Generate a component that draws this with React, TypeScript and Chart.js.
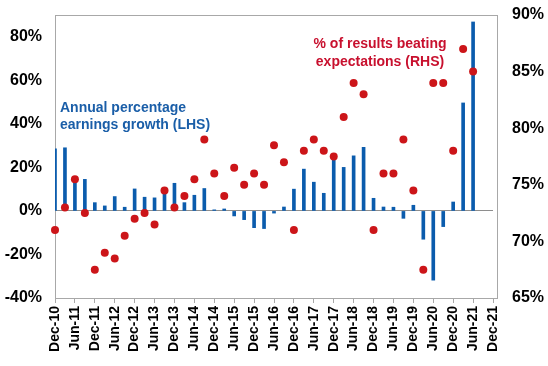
import React, { useEffect, useRef } from "react";
import { Chart, registerables } from "chart.js";

Chart.register(...registerables);

const quarters = [
  "Dec-10", "Mar-11", "Jun-11", "Sep-11", "Dec-11", "Mar-12", "Jun-12", "Sep-12", "Dec-12",
  "Mar-13", "Jun-13", "Sep-13", "Dec-13", "Mar-14", "Jun-14", "Sep-14", "Dec-14",
  "Mar-15", "Jun-15", "Sep-15", "Dec-15", "Mar-16", "Jun-16", "Sep-16", "Dec-16",
  "Mar-17", "Jun-17", "Sep-17", "Dec-17", "Mar-18", "Jun-18", "Sep-18", "Dec-18",
  "Mar-19", "Jun-19", "Sep-19", "Dec-19", "Mar-20", "Jun-20", "Sep-20", "Dec-20",
  "Mar-21", "Jun-21", "Sep-21", "Dec-21",
];

// Annual percentage earnings growth (LHS), %
const earningsGrowth = [
  28.5, 29, 14, 14.5, 3.8, 2.3, 6.6, 1.7, 10.1, 6.3, 6, 9, 12.7, 3.8, 7.2, 10.3, 0.5,
  0.9, -2.3, -4, -7.7, -8.1, -1, 1.8, 10, 19.2, 13.2, 8.1, 24.3, 20, 25.3, 29.2, 5.8,
  1.8, 1.7, -3.4, 2.6, -13, -31.8, -7.2, 4.1, 49.6, 86.8,
];

// % of results beating expectations (RHS)
const beatingExpectations = [
  71, 73, 75.5, 72.5, 67.5, 69, 68.5, 70.5, 72, 72.5, 71.5, 74.5, 73, 74, 75.5, 79, 76,
  74, 76.5, 75, 76, 75, 78.5, 77, 71, 78, 79, 78, 77.5, 81, 84, 83, 71,
  76, 76, 79, 74.5, 67.5, 84, 84, 78, 87, 85,
];

const leftTicks = { min: -40, max: 90, step: 20 };
const rightTicks = { min: 65, max: 90, step: 5 };

const blueLabel = ["Annual percentage", "earnings growth (LHS)"];
const redLabel = ["% of results beating", "expectations (RHS)"];

const FONT = "'Liberation Sans', Arial, sans-serif";
const BLUE = "#0B5CAD";
const RED = "#CC1519";

export default function App() {
  const ref = useRef<HTMLCanvasElement | null>(null);

  useEffect(() => {
    if (!ref.current) return;

    const framePlugin = {
      id: "frame",
      beforeDatasetsDraw(chart: any) {
        const { ctx, chartArea } = chart;
        ctx.save();
        ctx.strokeStyle = "#A8A8A8";
        ctx.lineWidth = 1;
        ctx.strokeRect(
          Math.round(chartArea.left) + 0.5,
          Math.round(chartArea.top) + 0.5,
          Math.round(chartArea.right + 4 - chartArea.left),
          Math.round(chartArea.bottom - chartArea.top)
        );
        ctx.restore();
      },
      afterDraw(chart: any) {
        const { ctx } = chart;
        ctx.save();
        ctx.font = `bold 14px ${FONT}`;
        ctx.textBaseline = "alphabetic";
        ctx.fillStyle = "#1A5EA8";
        ctx.textAlign = "left";
        ctx.fillText(blueLabel[0], 60, 112);
        ctx.fillText(blueLabel[1], 60, 129);
        ctx.fillStyle = "#C8102E";
        ctx.textAlign = "center";
        ctx.fillText(redLabel[0], 380, 48);
        ctx.fillText(redLabel[1], 380, 66);
        ctx.restore();
      },
    };

    const fitV = (s: any) => {
      s.width = 55;
      s.paddingTop = 0;
      s.paddingBottom = 0;
    };

    const chart = new Chart(ref.current, {
      type: "bar",
      data: {
        labels: quarters,
        datasets: [
          {
            type: "line",
            label: "% of results beating expectations (RHS)",
            data: beatingExpectations,
            yAxisID: "y1",
            showLine: false,
            pointRadius: 4,
            pointBackgroundColor: RED,
            pointBorderWidth: 0,
            borderColor: RED,
            order: 0,
          } as any,
          {
            type: "bar",
            label: "Annual percentage earnings growth (LHS)",
            data: earningsGrowth,
            yAxisID: "y",
            backgroundColor: BLUE,
            barThickness: 3,
            order: 1,
          } as any,
        ],
      },
      options: {
        animation: false,
        responsive: false,
        events: [],
        layout: { padding: { top: 15, left: 0, right: 0, bottom: 0 } },
        plugins: { legend: { display: false }, tooltip: { enabled: false } },
        scales: {
          x: {
            offset: false,
            afterFit(s: any) {
              s.height = 68;
              s.paddingLeft = 0;
              s.paddingRight = 0;
            },
            grid: {
              offset: false,
              drawOnChartArea: false,
              drawTicks: true,
              tickLength: 5,
              tickColor: (c: any) => (c.index % 2 === 0 ? "#A8A8A8" : "rgba(0,0,0,0)"),
            },
            border: { display: false },
            ticks: {
              autoSkip: false,
              maxRotation: 90,
              minRotation: 90,
              padding: 3,
              color: "#000",
              font: { family: FONT, size: 14, weight: "bold" },
              callback: (_v: any, i: number) => (i % 2 === 0 ? quarters[i] : ""),
            },
          },
          y: {
            position: "left",
            min: leftTicks.min,
            max: leftTicks.max,
            afterFit: fitV,
            grid: {
              drawTicks: false,
              color: (c: any) => (c.tick && c.tick.value === 0 ? "#8E8E8E" : "rgba(0,0,0,0)"),
            },
            border: { display: false },
            ticks: {
              stepSize: leftTicks.step,
              includeBounds: false,
              padding: 13,
              color: "#000",
              font: { family: FONT, size: 16, weight: "bold" },
              callback: (v: any) => `${v}%`,
            },
          },
          y1: {
            position: "right",
            min: rightTicks.min,
            max: rightTicks.max,
            afterFit: fitV,
            grid: { drawOnChartArea: false, drawTicks: false },
            border: { display: false },
            ticks: {
              stepSize: rightTicks.step,
              padding: 19,
              color: "#000",
              font: { family: FONT, size: 16, weight: "bold" },
              callback: (v: any) => `${v}%`,
            },
          },
        },
      } as any,
      plugins: [framePlugin],
    });

    return () => chart.destroy();
  }, []);

  return (
    <div style={{ position: "absolute", left: 0, top: 0, width: 548, height: 366, background: "#fff" }}>
      <canvas ref={ref} width={548} height={366} style={{ width: 548, height: 366 }} />
    </div>
  );
}
